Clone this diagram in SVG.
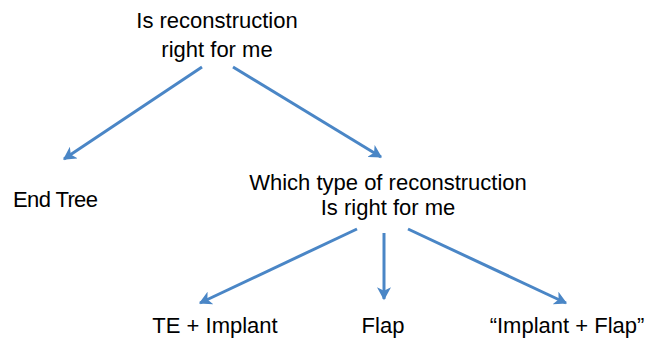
<svg xmlns="http://www.w3.org/2000/svg" width="646" height="339" viewBox="0 0 646 339">
<style>
text{font-family:"Liberation Sans",Arial,sans-serif;font-size:22px;fill:#000;text-anchor:middle}
.c{stroke:#4a86c6;stroke-width:3;fill:none;marker-end:url(#ah)}
</style>
<defs>
<marker id="ah" markerUnits="userSpaceOnUse" markerWidth="14" markerHeight="14" refX="10" refY="6" orient="auto" viewBox="0 0 12 12">
<path d="M0,0 L11,6 L0,12 L3,6 Z" fill="#4a86c6"/>
</marker>
</defs>
<rect width="646" height="339" fill="#fff"/>
<g id="connectors">
<line class="c" x1="202" y1="67" x2="64" y2="159"/>
<line class="c" x1="233" y1="67" x2="381" y2="157"/>
<line class="c" x1="357" y1="229" x2="200" y2="303"/>
<line class="c" x1="384" y1="233" x2="384" y2="299"/>
<line class="c" x1="408" y1="229" x2="566" y2="303"/>
</g>
<g id="root"><text x="217" y="28">Is reconstruction</text><text x="217" y="57">right for me</text></g>
<g id="end-tree"><text x="13" y="207" style="text-anchor:start" textLength="85">End Tree</text></g>
<g id="which-type"><text x="388" y="190">Which type of reconstruction</text><text x="388" y="215">Is right for me</text></g>
<g id="te-implant"><text x="215" y="333">TE + Implant</text></g>
<g id="flap"><text x="383" y="333">Flap</text></g>
<g id="implant-flap"><text x="567" y="333">“Implant + Flap”</text></g>
</svg>
